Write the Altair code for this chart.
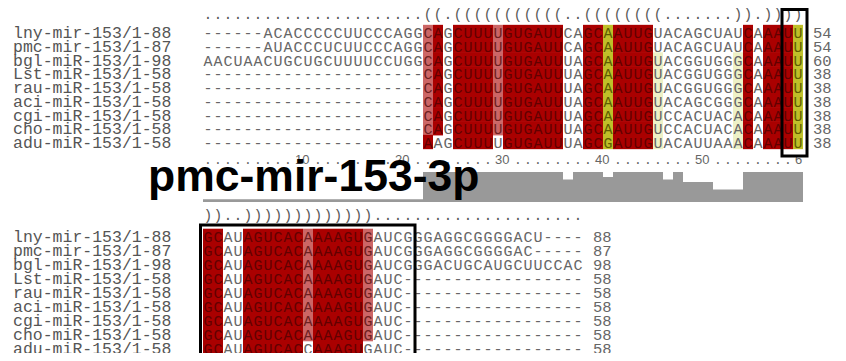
import altair as alt
import pandas as pd

# ---------------- data ----------------
labels = ["lny-mir-153/1-88", "pmc-mir-153/1-87", "bgl-miR-153/1-98",
          "Lst-miR-153/1-58", "rau-miR-153/1-58", "aci-miR-153/1-58",
          "cgi-miR-153/1-58", "cho-miR-153/1-58", "adu-miR-153/1-58"]

top_seqs = [
    "------ACACCCCCUUCCCAGGCAGCUUUUGUGAUUCAGCAAUUGUACAGCUAUCAAAUU",
    "------AUACCCUCUUCCCAGGCAGCUUUUGUGAUUCAGCAAUUGUACAGCUAUCAAAUU",
    "AACUAACUGCUGCUUUUCCUGGCAGCUUUUGUGAUUUAGCAAUUGUACGGUGGGCAAAUU",
    "----------------------CAGCUUUUGUGAUUUAGCAAUUGUACGGUGGGCAAAUU",
    "----------------------CAGCUUUUGUGAUUUAGCAAUUGUACGGUGGGCAAAUU",
    "----------------------CAGCUUUUGUGAUUUAGCAAUUGUACAGCGGGCAAAUU",
    "----------------------CAGCUUUUGUGAUUUAGCAAUUGUCCACUACACAAAUU",
    "----------------------CAGCUUUUGUGAUUUAGCAAUUGUCCACUACACAAAUU",
    "----------------------AAGCUUUUGUGAUUUAGCGAUUGUACAUUAAACAAAUU",
]
bottom_seqs = [
    "GCAUAGUCACAAAAGUGAUCGGGAGGCGGGGACU----",
    "GCAUAGUCACAAAAGUGAUCGGGAGGCGGGGAC-----",
    "GCAUAGUCACAAAAGUGAUCGGGACUGCAUGCUUCCAC",
    "GCAUAGUCACAAAAGUGAUC------------------",
    "GCAUAGUCACAAAAGUGAUC------------------",
    "GCAUAGUCACAAAAGUGAUC------------------",
    "GCAUAGUCACAAAAGUGAUC------------------",
    "GCAUAGUCACAAAAGUGAUC------------------",
    "GCAUAGUCACCAAAGUGAUC------------------",
]
# shading class of each cell: D dark red, l light red, Y yellow, p pale yellow, . none
top_shade = [
    "......................lD.DDDDlDDDDDD..DDYDDDD.........D.DDDY",
    "......................lD.DDDDlDDDDDD..DDYDDDD.........D.DDDY",
    "......................lD.DDDDlDDDDDD..DDYDDDDp.......pD.DDDY",
    "......................lD.DDDDlDDDDDD..DDYDDDDp.......pD.DDDY",
    "......................lD.DDDDlDDDDDD..DDYDDDDp.......pD.DDDY",
    "......................lD.DDDDlDDDDDD..DDYDDDDp.......pD.DDDY",
    "......................lD.DDDDlDDDDDD..DDYDDDDp.......pD.DDDY",
    "......................lD.DDDDlDDDDDD..DDYDDDDp.......pD.DDDY",
    "......................D..DDDD.DDDDDD..DDYDDDDp.......pD.DDDY",
]
bottom_shade = [
    "DD..DDDDDDlDDDDDl.....................",
    "DD..DDDDDDlDDDDDl.....................",
    "DD..DDDDDDlDDDDDl.....................",
    "DD..DDDDDDlDDDDDl.....................",
    "DD..DDDDDDlDDDDDl.....................",
    "DD..DDDDDDlDDDDDl.....................",
    "DD..DDDDDDlDDDDDl.....................",
    "DD..DDDDDDlDDDDDl.....................",
    "DD..DDDDDD.DDDDD......................",
]
top_ends = [54, 54, 60, 38, 38, 38, 38, 38, 38]
bottom_ends = [88, 87, 98, 58, 58, 58, 58, 58, 58]
struct_top = ("......................" + "((" + "." + "(((((((((((" + ".."
              + "((((((((" + "......." + "))" + "." + "))))")
struct_bottom = "))" + ".." + ")))))))))))))" + "....................."
conservation = [0, 0, 0, 0, 0, 0, 0, 0, 0, 0, 0, 0, 0, 0, 0, 0, 0, 0, 0, 0, 0, 0,
                11, 11, 11, 11, 11, 11, 11, 11, 11, 11, 11, 11, 11, 11,
                8, 11, 11, 11, 9, 11, 11, 11, 11, 11, 8, 11, 7, 7, 7, 4, 4, 4,
                11, 11, 11, 11, 11, 11]
ruler_ticks = [10, 20, 30, 40, 50, 60]
title = "pmc-mir-153-3p"
boxes = [  # block, first column, last column of highlighted region
    (0, 59, 60),
    (1, 1, 21),
]

# ---------------- layout ----------------
W, H = 830, 345
ROW_H = [13.75, 14.0]
BLOCK_Y0 = [32.0, 236.0]          # page y of first row centre per block
STRUCT_Y = [15.0, 216.0]
RULER_Y = 160.0
BOX_Y = [(9.5, 156.0), (225.0, 400.0)]
BOX_PAD = [(-1.0, 4.0), (-2.5, 2.0)]  # px outside the columns
ncols = [60, 38]

XS = alt.Scale(domain=[-19, 64], range=[0, W], nice=False, zero=False)
YS = alt.Scale(domain=[8, 8 + H], range=[0, H], nice=False, zero=False)
HS = alt.Scale(domain=[-1, 11], range=[194, 164], nice=False, zero=False)

cells = []
for b, (seqs, shades) in enumerate([(top_seqs, top_shade), (bottom_seqs, bottom_shade)]):
    for r, (s, sh) in enumerate(zip(seqs, shades)):
        for i, ch in enumerate(s):
            cells.append(dict(block=b, row=r, col=i + 1, ch=ch, shade=sh[i],
                              yc=BLOCK_Y0[b] + r * ROW_H[b], hh=ROW_H[b] / 2 + 0.3))
cells = pd.DataFrame(cells)

lab = []
for b, ends in enumerate([top_ends, bottom_ends]):
    for r, (l, e) in enumerate(zip(labels, ends)):
        lab.append(dict(label=l, end=str(e), yc=BLOCK_Y0[b] + r * ROW_H[b],
                        numx=ncols[b] + 1.5))
lab = pd.DataFrame(lab)

struct = []
for b, s in enumerate([struct_top, struct_bottom]):
    for i, ch in enumerate(s):
        struct.append(dict(col=i + 1, ch=ch, y=STRUCT_Y[b]))
struct = pd.DataFrame(struct)

ruler = []
covered = set()
for t in ruler_ticks:
    txt = str(t)[: ncols[0] - t + 1]
    ruler.append(dict(col=t, ch=txt, kind="num", y=RULER_Y))
    covered.update(range(t, t + len(txt)))
for c in range(1, ncols[0] + 1):
    if c not in covered:
        ruler.append(dict(col=c, ch=".", kind="dot", y=RULER_Y))
ruler = pd.DataFrame(ruler)

hist = pd.DataFrame(dict(col=list(range(1, 61)), cons=conservation))

bx = []
for (b, c0, c1), (yt, yb), (pl, pr) in zip(boxes, BOX_Y, BOX_PAD):
    bx.append(dict(x0=c0 - 0.5 + pl / 10, x1=c1 + 0.5 + pr / 10, y0=yt, y1=yb))
bx = pd.DataFrame(bx)

MONO = "Liberation Mono"

cell_layer = alt.Chart(cells).transform_filter("datum.shade != '.'").transform_calculate(
    x0="datum.col - 0.5", x1="datum.col + 0.5",
    y0="datum.yc - datum.hh", y1="datum.yc + datum.hh"
).mark_rect().encode(
    x=alt.X("x0:Q", scale=XS, axis=None), x2="x1:Q",
    y=alt.Y("y0:Q", scale=YS, axis=None), y2="y1:Q",
    color=alt.Color("shade:N", legend=None,
                    scale=alt.Scale(domain=["D", "l", "Y", "p"],
                                    range=["#AA0000", "#CC6666", "#BFBF28", "#EEF1C6"])),
)

text_layer = alt.Chart(cells).mark_text(font=MONO, fontSize=15, baseline="middle",
                                         align="center", dy=1).encode(
    x=alt.X("col:Q", scale=XS, axis=None),
    y=alt.Y("yc:Q", scale=YS, axis=None),
    text="ch:N",
    color=alt.Color("shade:N", legend=None,
                    scale=alt.Scale(domain=[".", "D", "l", "Y", "p"],
                                    range=["#666666", "#620000", "#6e2020", "#5e5e00", "#666666"])),
)

label_layer = alt.Chart(lab).mark_text(font=MONO, fontSize=16.5, baseline="middle",
                                        align="left", color="#555555", dy=1).encode(
    x=alt.value(5), y=alt.Y("yc:Q", scale=YS, axis=None), text="label:N")

num_layer = alt.Chart(lab).mark_text(font=MONO, fontSize=15.5, baseline="middle",
                                      align="left", color="#666666", dy=1).encode(
    x=alt.X("numx:Q", scale=XS, axis=None), y=alt.Y("yc:Q", scale=YS, axis=None),
    text="end:N")

struct_layer = alt.Chart(struct).mark_text(font=MONO, fontSize=14, baseline="middle",
                                            align="center", color="#555555").encode(
    x=alt.X("col:Q", scale=XS, axis=None), y=alt.Y("y:Q", scale=YS, axis=None),
    text="ch:N")

ruler_dots = alt.Chart(ruler).transform_filter("datum.kind == 'dot'").mark_text(
    font=MONO, fontSize=13, baseline="middle", align="center", color="#666666").encode(
    x=alt.X("col:Q", scale=XS, axis=None), y=alt.Y("y:Q", scale=YS, axis=None),
    text="ch:N")
ruler_nums = alt.Chart(ruler).transform_filter("datum.kind == 'num'").mark_text(
    font="Liberation Sans", fontSize=13, baseline="middle", align="left",
    color="#666666", dx=-3).encode(
    x=alt.X("col:Q", scale=XS, axis=None), y=alt.Y("y:Q", scale=YS, axis=None),
    text="ch:N")

hist_base = alt.Chart(hist).transform_calculate(
    x0="datum.col - 0.5", x1="datum.col + 0.5", lo="-1", hi="0"
).mark_rect(color="#999999").encode(
    x=alt.X("x0:Q", scale=XS, axis=None), x2="x1:Q",
    y=alt.Y("lo:Q", scale=HS, axis=None), y2="hi:Q")
hist_layer = alt.Chart(hist).transform_calculate(
    x0="datum.col - 0.5", x1="datum.col + 0.5", lo="-1"
).mark_rect(color="#999999").encode(
    x=alt.X("x0:Q", scale=XS, axis=None), x2="x1:Q",
    y=alt.Y("cons:Q", scale=HS, axis=None), y2="lo:Q")

title_layer = alt.Chart(pd.DataFrame(dict(t=[title]))).mark_text(
    font="Liberation Sans", fontWeight="bold", fontSize=44.5, baseline="alphabetic",
    align="left", color="#000000").encode(
    x=alt.value(140), y=alt.value(183), text="t:N")

box_layer = alt.Chart(bx).mark_rect(fillOpacity=0, stroke="#000000", strokeWidth=3).encode(
    x=alt.X("x0:Q", scale=XS, axis=None), x2="x1:Q",
    y=alt.Y("y0:Q", scale=YS, axis=None), y2="y1:Q")

chart = alt.layer(
    cell_layer, text_layer, label_layer, num_layer, struct_layer,
    hist_base, hist_layer, ruler_dots, ruler_nums, title_layer, box_layer
).resolve_scale(y="independent", color="independent").properties(
    width=W, height=H, autosize=alt.AutoSizeParams(type="none"), padding=0
).configure_view(strokeWidth=0)

chart.save("out.html", embed_options={"renderer": "svg", "actions": False})
